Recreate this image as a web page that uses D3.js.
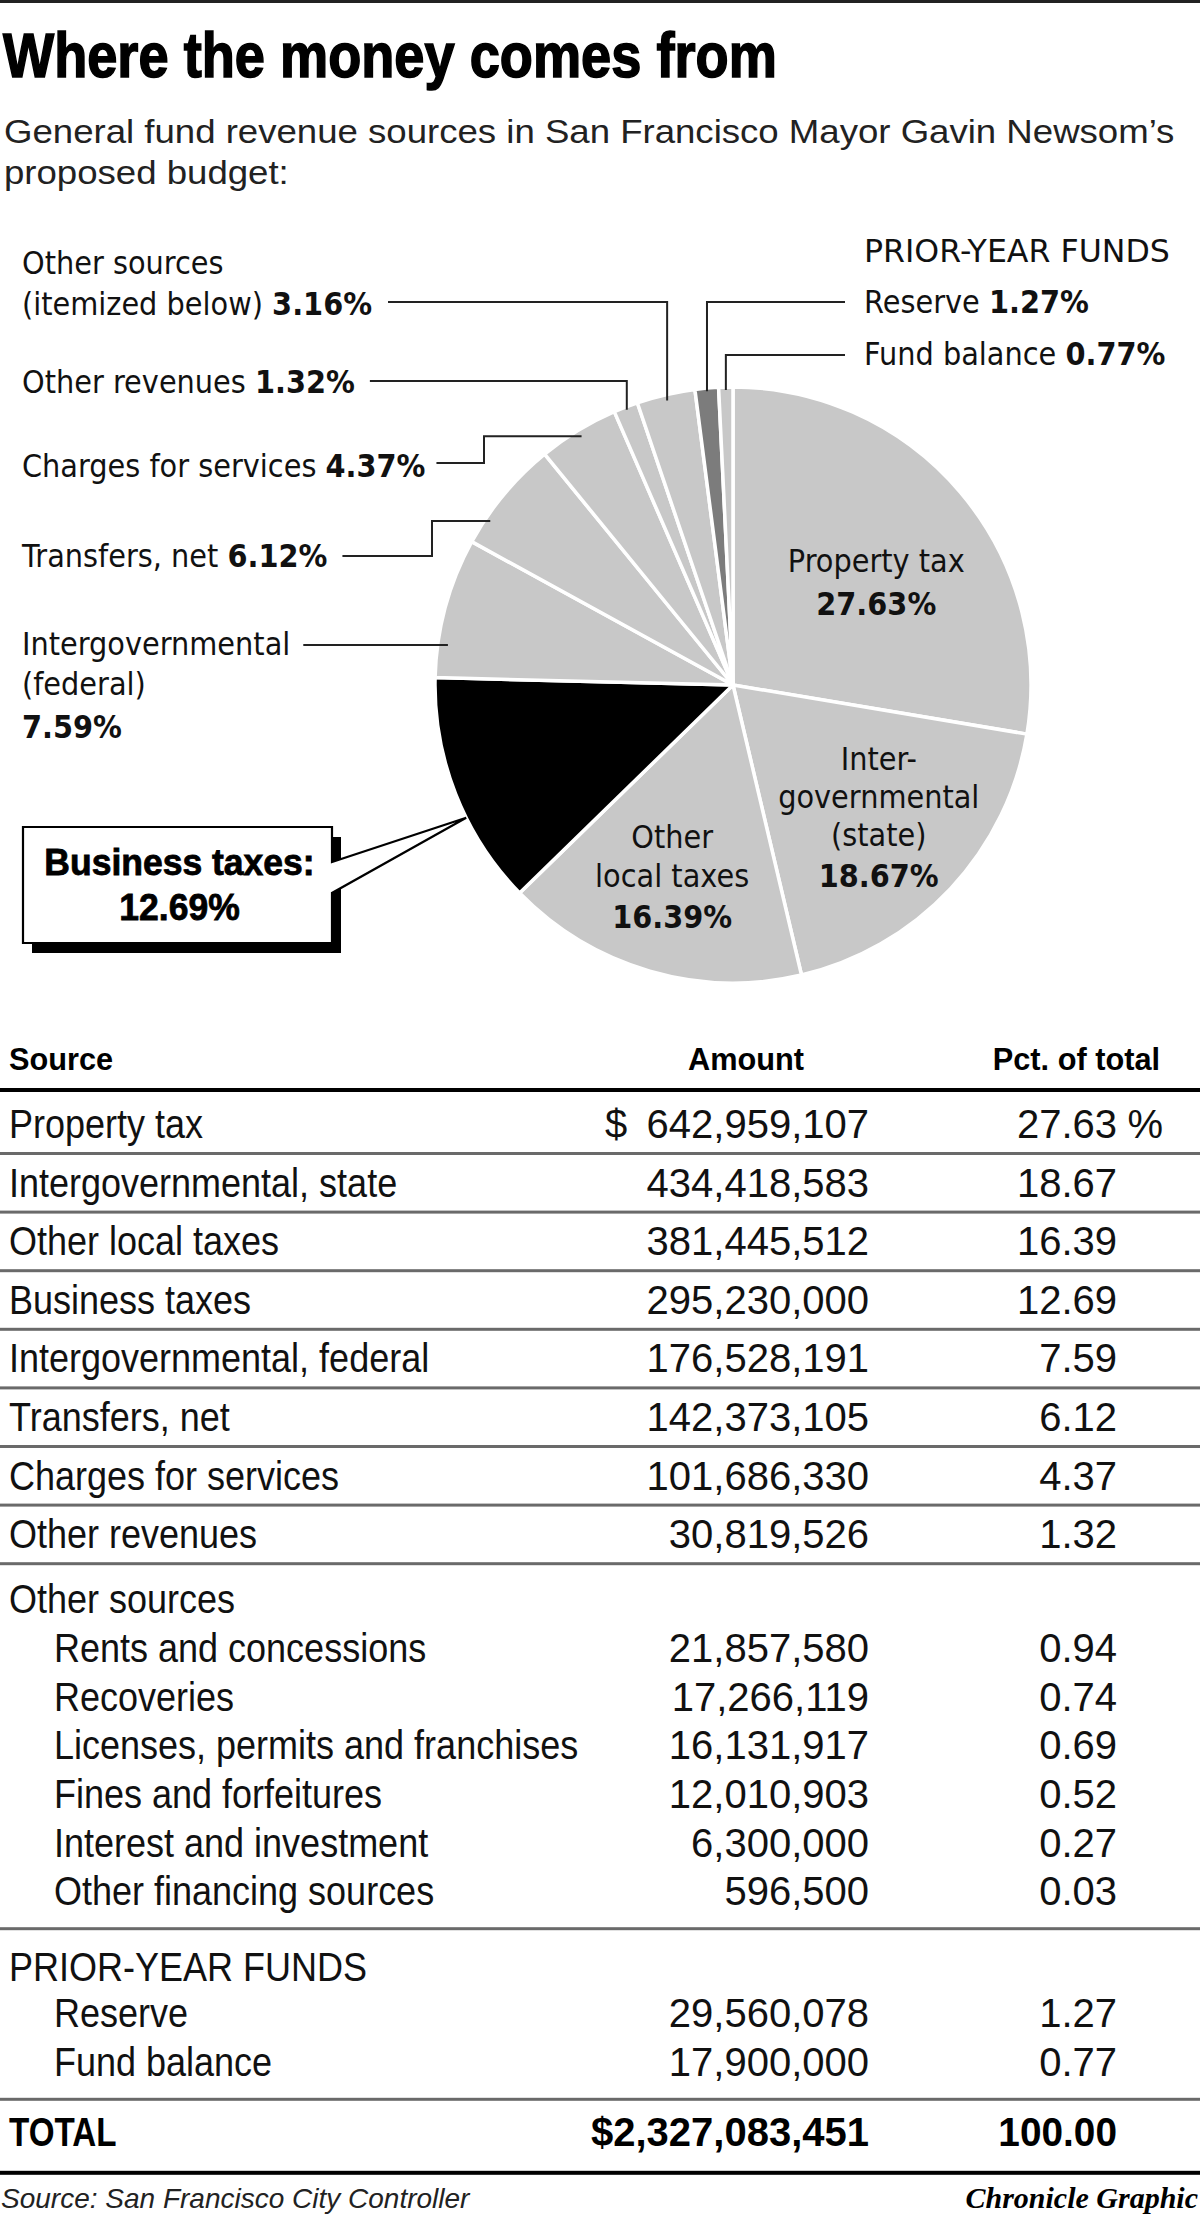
<!DOCTYPE html>
<html><head><meta charset="utf-8">
<script src="https://cdn.jsdelivr.net/npm/d3@7"></script>
<style>html,body{margin:0;padding:0;background:#fff;}svg{display:block;}</style>
</head><body>
<svg id="c" width="1200" height="2223"></svg>
<script>
// ---------------- DATA ----------------
const sliceNames = ["Property tax","Intergovernmental (state)","Other local taxes","Business taxes","Intergovernmental (federal)","Transfers, net","Charges for services","Other revenues","Other sources","Reserve","Fund balance"];
const slicePcts  = [27.63, 18.67, 16.39, 12.69, 7.59, 6.12, 4.37, 1.32, 3.16, 1.27, 0.77];

const mainLabels  = ["Property tax","Intergovernmental, state","Other local taxes","Business taxes","Intergovernmental, federal","Transfers, net","Charges for services","Other revenues"];
const mainAmounts = [642959107, 434418583, 381445512, 295230000, 176528191, 142373105, 101686330, 30819526];
const mainPcts    = [27.63, 18.67, 16.39, 12.69, 7.59, 6.12, 4.37, 1.32];

const otherLabels  = ["Rents and concessions","Recoveries","Licenses, permits and franchises","Fines and forfeitures","Interest and investment","Other financing sources"];
const otherAmounts = [21857580, 17266119, 16131917, 12010903, 6300000, 596500];
const otherPcts    = [0.94, 0.74, 0.69, 0.52, 0.27, 0.03];

const priorLabels  = ["Reserve","Fund balance"];
const priorAmounts = [29560078, 17900000];
const priorPcts    = [1.27, 0.77];

const totalAmount = 2327083451;
const totalPct = 100.00;

// ---------------- SETUP ----------------
const COND = "'Liberation Sans', Arial, Helvetica, sans-serif";
const LBL  = "'DejaVu Sans', Verdana, sans-serif";
const INK = "#111";
const svg = d3.select("#c");
svg.append("rect").attr("width",1200).attr("height",2223).attr("fill","#fff");
svg.append("rect").attr("x",0).attr("y",0).attr("width",1200).attr("height",3).attr("fill","#222");

function T(parent, x, y, parts, o = {}) {
  const k = o.k || 1;
  const t = parent.append("text")
    .attr("transform", `translate(${x},${y}) scale(${k},1)`)
    .attr("font-family", o.family || COND)
    .attr("font-size", o.size || 40)
    .attr("text-anchor", o.anchor || "start")
    .attr("fill", o.fill || INK);
  if (o.weight) t.attr("font-weight", o.weight);
  if (o.style) t.attr("font-style", o.style);
  if (typeof parts === "string") parts = [[parts, false]];
  parts.forEach(([s, b]) => { const ts = t.append("tspan").text(s); if (b) ts.attr("font-weight", "bold"); });
  t.node().__x = x; t.node().__y = y; t.node().__k = k;
  return t;
}
function fit(t, width) {
  const n = t.node(); const w = n.getComputedTextLength();
  const k = width / w; n.__k = k;
  t.attr("transform", `translate(${n.__x},${n.__y}) scale(${k},1)`);
  return k;
}
function endX(t) { const n = t.node(); return n.__x + n.getComputedTextLength() * n.__k; }

// ---------------- TITLE ----------------
const title = T(svg, 3, 77, "Where the money comes from", {size: 63, weight: "bold", fill: "#000"});
title.attr("stroke", "#000").attr("stroke-width", 1.6);
fit(title, 774);
const sub1 = T(svg, 4, 143, "General fund revenue sources in San Francisco Mayor Gavin Newsom\u2019s", {size: 33, fill: "#222"});
const ks = fit(sub1, 1171);
const sub2 = T(svg, 4, 184, "proposed budget:", {size: 33, fill: "#222", k: ks});

// ---------------- PIE ----------------
const cx = 733, cy = 685, R = 298;
const fills = sliceNames.map((d, i) => i === 3 ? "#000" : (i === 9 ? "#7c7c7c" : "#c8c8c8"));
const arcs = d3.pie().sort(null).value(d => d)(slicePcts);
const arc = d3.arc().innerRadius(0).outerRadius(R);
const gPie = svg.append("g").attr("transform", `translate(${cx},${cy})`);
gPie.selectAll("path").data(arcs).join("path")
  .attr("d", arc).attr("fill", (d, i) => fills[i])
  .attr("stroke", "#fff").attr("stroke-width", 3.5).attr("stroke-linejoin", "round");

function pt(i, t, rr) {
  const a = arcs[i].startAngle + t * (arcs[i].endAngle - arcs[i].startAngle);
  return [cx + rr * Math.sin(a), cy - rr * Math.cos(a)];
}
const line = d3.line();
const gLead = svg.append("g").attr("fill", "none").attr("stroke", "#222").attr("stroke-width", 2);
const LS = {size: 32, family: LBL, k: 0.9};

// Left labels
T(svg, 22, 274, "Other sources", LS);
let t = T(svg, 22, 315, [["(itemized below) ", false], ["3.16%", true]], LS);
let a = pt(8, 0.5, R * 0.98);
gLead.append("path").attr("d", line([[endX(t) + 16, 302], [a[0], 302], a]));

t = T(svg, 22, 393, [["Other revenues ", false], ["1.32%", true]], LS);
a = pt(7, 0.5, R * 0.99);
gLead.append("path").attr("d", line([[endX(t) + 15, 381], [a[0], 381], a]));

t = T(svg, 22, 477, [["Charges for services ", false], ["4.37%", true]], LS);
a = pt(6, 0.5, R * 0.977);
gLead.append("path").attr("d", line([[endX(t) + 11, 463], [484, 463], [484, a[1]], a]));

t = T(svg, 22, 567, [["Transfers, net ", false], ["6.12%", true]], LS);
a = pt(5, 0.24, R * 0.983);
gLead.append("path").attr("d", line([[endX(t) + 15, 556], [432, 556], [432, a[1]], a]));

t = T(svg, 22, 655, "Intergovernmental", LS);
T(svg, 22, 695, "(federal)", LS);
T(svg, 22, 738, [["7.59%", true]], LS);
a = pt(4, 0.24, R * 0.966);
gLead.append("path").attr("d", line([[endX(t) + 13, a[1]], a]));

// Right labels
const pyf = T(svg, 864, 262, "PRIOR-YEAR FUNDS", LS);
fit(pyf, 306);
T(svg, 864, 313, [["Reserve ", false], ["1.27%", true]], LS);
a = pt(9, 0.5, R * 0.99);
gLead.append("path").attr("d", line([[845, 302], [a[0], 302], a]));
T(svg, 864, 365, [["Fund balance ", false], ["0.77%", true]], LS);
a = pt(10, 0.5, R * 0.99);
gLead.append("path").attr("d", line([[845, 355], [a[0], 355], a]));

// Inside labels
const LC = Object.assign({}, LS, {anchor: "middle"});
function block(i, tt, rr, lines) {
  const p = pt(i, tt, rr);
  lines.forEach(([s, b, dy]) => T(svg, p[0], p[1] + dy, [[s, b]], LC));
}
block(0, 0.578, R * 0.57, [["Property tax", false, -22], ["27.63%", true, 21]]);
block(1, 0.52, R * 0.685, [["Inter-", false, -58], ["governmental", false, -20], ["(state)", false, 18], ["18.67%", true, 59]]);
block(2, 0.508, R * 0.711, [["Other", false, -40], ["local taxes", false, -1], ["16.39%", true, 40]]);

// Business taxes callout
const bx = 23, by = 827, bw = 309, bh = 116;
const tip = pt(3, 0.39, R);
svg.append("rect").attr("x", bx + 9).attr("y", by + 10).attr("width", bw).attr("height", bh).attr("fill", "#000");
svg.append("path")
  .attr("d", line([[bx, by], [bx + bw, by], [bx + bw, 862], tip, [bx + bw, 893], [bx + bw, by + bh], [bx, by + bh]]) + "Z")
  .attr("fill", "#fff").attr("stroke", "#000").attr("stroke-width", 2.2).attr("stroke-linejoin", "miter");
const BS = {size: 37, weight: "bold", anchor: "middle", fill: "#000", k: 0.96};
T(svg, bx + bw / 2 + 2, 875, "Business taxes:", BS).attr("stroke", "#000").attr("stroke-width", 0.8);
T(svg, bx + bw / 2 + 2, 920, "12.69%", BS).attr("stroke", "#000").attr("stroke-width", 0.8);

// ---------------- TABLE ----------------
const fmtAmt = d3.format(",");
const fmtPct = d3.format(".2f");
const X = {label: 9, indent: 54, amt: 869, pct: 1117};
const TS = {size: 40, k: 0.9};
const NS = {size: 40, k: 1.0, anchor: "end"};
const HS = {size: 32, weight: "bold", k: 0.96, fill: "#000"};

T(svg, X.label, 1070, "Source", HS);
T(svg, 746, 1070, "Amount", Object.assign({}, HS, {anchor: "middle"}));
T(svg, 1160, 1070, "Pct. of total", Object.assign({}, HS, {anchor: "end"}));

const gRules = svg.append("g");
gRules.append("rect").attr("x", 0).attr("y", 1088).attr("width", 1200).attr("height", 4).attr("fill", "#000");

const yMain = d3.scaleLinear().domain([0, 1]).range([1138, 1196.6]);
mainLabels.forEach((lab, i) => {
  const y = yMain(i);
  T(svg, X.label, y, lab, TS);
  T(svg, X.amt, y, fmtAmt(mainAmounts[i]), NS);
  T(svg, X.pct, y, fmtPct(mainPcts[i]), NS);
  if (i === 0) {
    T(svg, 605, y, "$", {size: 40});
    T(svg, 1163, y, "%", {size: 40, anchor: "end"});
  }
  gRules.append("rect").attr("x", 0).attr("y", y + 14).attr("width", 1200).attr("height", 3).attr("fill", "#6a6a6a");
});

const yOtherHead = yMain(mainLabels.length - 1) + 65;
T(svg, X.label, yOtherHead, "Other sources", TS);
const yOther = d3.scaleLinear().domain([0, 1]).range([yOtherHead + 49, yOtherHead + 97.6]);
otherLabels.forEach((lab, i) => {
  const y = yOther(i);
  T(svg, X.indent, y, lab, TS);
  T(svg, X.amt, y, fmtAmt(otherAmounts[i]), NS);
  T(svg, X.pct, y, fmtPct(otherPcts[i]), NS);
});
const yRule2 = yOther(otherLabels.length - 1) + 22;
gRules.append("rect").attr("x", 0).attr("y", yRule2).attr("width", 1200).attr("height", 3).attr("fill", "#6a6a6a");

const yPriorHead = yRule2 + 54;
T(svg, X.label, yPriorHead, "PRIOR-YEAR FUNDS", TS);
const yPrior = d3.scaleLinear().domain([0, 1]).range([yPriorHead + 46, yPriorHead + 94.6]);
priorLabels.forEach((lab, i) => {
  const y = yPrior(i);
  T(svg, X.indent, y, lab, TS);
  T(svg, X.amt, y, fmtAmt(priorAmounts[i]), NS);
  T(svg, X.pct, y, fmtPct(priorPcts[i]), NS);
});
const yRule3 = yPrior(priorLabels.length - 1) + 22;
gRules.append("rect").attr("x", 0).attr("y", yRule3).attr("width", 1200).attr("height", 3).attr("fill", "#6a6a6a");

const yTot = yRule3 + 48;
T(svg, X.label, yTot, "TOTAL", {size: 40, weight: "bold", k: 0.83, fill: "#000"});
T(svg, X.amt, yTot, "$" + fmtAmt(totalAmount), {size: 40, weight: "bold", anchor: "end", k: 1.0, fill: "#000"});
T(svg, X.pct, yTot, fmtPct(totalPct), {size: 40, weight: "bold", anchor: "end", k: 0.97, fill: "#000"});
gRules.append("rect").attr("x", 0).attr("y", yTot + 25).attr("width", 1200).attr("height", 4).attr("fill", "#000");

// footer
T(svg, 1, yTot + 62, "Source: San Francisco City Controller", {size: 28, style: "italic", fill: "#222"});
T(svg, 1198, yTot + 62, "Chronicle Graphic", {size: 30, style: "italic", weight: "bold", family: "'Liberation Serif', 'DejaVu Serif', serif", anchor: "end", fill: "#000"});
</script>
</body></html>
